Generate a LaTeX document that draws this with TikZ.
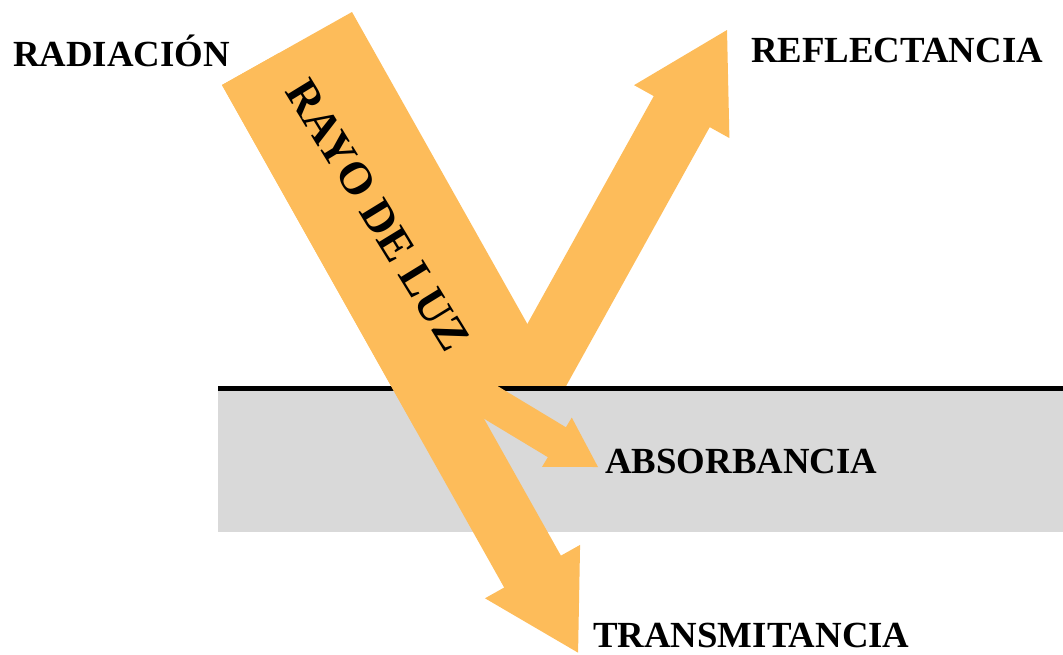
\documentclass[tikz,border=0pt]{standalone}
\usepackage{fontspec}
\setmainfont{Liberation Serif}
\usetikzlibrary{calc}

\definecolor{beamfill}{RGB}{253,188,90}
\definecolor{layerfill}{RGB}{217,217,217}

% Block arrow: #1 tail centre, #2 tip, #3 shaft half width, #4 head half width, #5 head length
\newcommand\rayarrow[5]{%
  \coordinate (ra-base) at ($(#2)!#5!(#1)$);
  \fill[beam] ($(#1)!#3!90:(#2)$) -- ($(ra-base)!#3!90:(#2)$) -- ($(ra-base)!#4!90:(#2)$) -- (#2)
    -- ($(ra-base)!#4!-90:(#2)$) -- ($(ra-base)!#3!-90:(#2)$) -- ($(#1)!#3!-90:(#2)$) -- cycle;}

\tikzset{
  beam/.style={fill=beamfill, draw=none},
  lbl/.style={font=\fontsize{27.6}{33}\selectfont\bfseries, inner sep=0pt, anchor=base west},
}

\begin{document}
\begin{tikzpicture}[x=0.75pt, y=-0.75pt]
  \useasboundingbox (0,0) rectangle (1063,654);

  % medium (grey layer)
  \fill[layerfill] (218,388.5) rectangle (1063,531.5);

  % incident beam corners
  \coordinate (inTL) at (222,85);
  \coordinate (inTR) at (352,12);
  \coordinate (inBR) at (545.6,356.4);
  \coordinate (inBL) at (415.6,429.4);
  % transmitted beam runs along the left edge of the incident beam
  \coordinate (traTail) at ($(inTL)!24.4pt!(inTR)$);
  \coordinate (traTip) at ($(traTail)!502pt!-90:(inTR)$);
  % reflected and absorbed beams
  \coordinate (refTail) at (494,450);
  \coordinate (refTip) at (727,30);
  \coordinate (absTail) at (452,379);
  \coordinate (absTip) at (598,467);

  % reflected beam, cut at the surface
  \begin{scope}
    \clip (0,0) rectangle (1063,388.5);
    \rayarrow{refTail}{refTip}{24pt}{40.9pt}{70pt}
  \end{scope}

  % surface line
  \draw[line width=3.4pt] (218,388.5) -- (1063,388.5);

  % incident beam
  \fill[beam] (inTL) -- (inTR) -- (inBR) -- (inBL) -- cycle;

  % transmitted and absorbed beams
  \rayarrow{traTail}{traTip}{24.4pt}{40.9pt}{69.75pt}
  \rayarrow{absTail}{absTip}{13.1pt}{21.6pt}{36pt}

  % texts
  \node[rotate=-58.5, font=\fontsize{34}{34}\selectfont\bfseries, inner sep=0pt] (rayo) at (378,215) {RAYO DE LUZ};
  \node[lbl] (radiacion) at (13,66) {RADIACIÓN};
  \node[lbl] (reflectancia) at (751,62) {REFLECTANCIA};
  \node[lbl] (absorbancia) at (605,473) {ABSORBANCIA};
  \node[lbl] (transmitancia) at (593,647) {TRANSMITANCIA};
\end{tikzpicture}
\end{document}
